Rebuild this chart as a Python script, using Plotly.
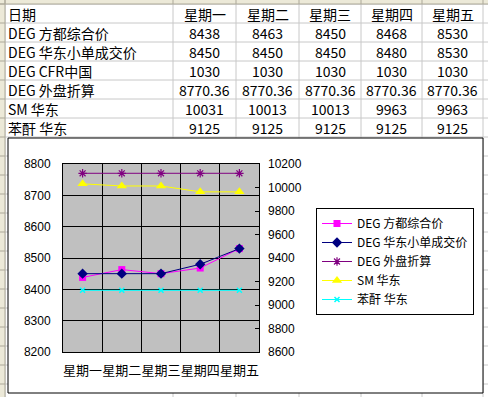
import plotly.graph_objects as go

# ---------------- data ----------------
categories = ["星期一", "星期二", "星期三", "星期四", "星期五"]
header_label = "日期"
row_names = ["DEG 方都综合价", "DEG 华东小单成交价", "DEG CFR中国", "DEG 外盘折算", "SM 华东", "苯酐 华东"]
deg_fangdu = [8438, 8463, 8450, 8468, 8530]
deg_huadong = [8450, 8450, 8450, 8480, 8530]
deg_cfr = [1030, 1030, 1030, 1030, 1030]
deg_waipan = [8770.36, 8770.36, 8770.36, 8770.36, 8770.36]
sm_huadong = [10031, 10013, 10013, 9963, 9963]
benfu_huadong = [9125, 9125, 9125, 9125, 9125]
table_rows = [deg_fangdu, deg_huadong, deg_cfr, deg_waipan, sm_huadong, benfu_huadong]

W, H = 488, 397


def px(x):
    return x / W


def py(y):
    return 1 - y / H


CJK = "Noto Sans CJK SC"
fig = go.Figure()

fig.add_trace(go.Scatter(x=categories, y=deg_fangdu, name=row_names[0], mode="lines+markers",
                         line=dict(color="#FF00FF", width=1),
                         marker=dict(symbol="square", size=7, color="#FF00FF")))
fig.add_trace(go.Scatter(x=categories, y=deg_huadong, name=row_names[1], mode="lines+markers",
                         line=dict(color="#000080", width=1),
                         marker=dict(symbol="diamond", size=8, color="#000080")))
fig.add_trace(go.Scatter(x=categories, y=deg_waipan, name=row_names[3], mode="lines+markers",
                         line=dict(color="#800080", width=1),
                         marker=dict(symbol="asterisk-open", size=7,
                                     line=dict(color="#800080", width=1.2))))
fig.add_trace(go.Scatter(x=categories, y=sm_huadong, name=row_names[4], mode="lines+markers",
                         yaxis="y2", line=dict(color="#FFFF00", width=1),
                         marker=dict(symbol="triangle-up", size=9, color="#FFFF00")))
fig.add_trace(go.Scatter(x=categories, y=benfu_huadong, name=row_names[5], mode="lines+markers",
                         yaxis="y2", line=dict(color="#00FFFF", width=1),
                         marker=dict(symbol="x-thin-open", size=5,
                                     line=dict(color="#00FFFF", width=1.5))))

shapes = []
GRID = "#C8C8C8"
HDR = "#ECE9D8"
HDRLINE = "#ACA899"
col_x = [5, 173, 236, 299, 361, 422, 483]
row_y = [4 + 19 * k for k in range(21)]

# cell gridlines
for yy in row_y:
    shapes.append(dict(type="line", xref="paper", yref="paper", x0=px(5), x1=px(W), y0=py(yy), y1=py(yy),
                       line=dict(color=GRID, width=1), layer="below"))
for xx in col_x:
    shapes.append(dict(type="line", xref="paper", yref="paper", x0=px(xx), x1=px(xx), y0=py(4), y1=py(H),
                       line=dict(color=GRID, width=1), layer="below"))
# headers
shapes.append(dict(type="rect", xref="paper", yref="paper", x0=0, x1=px(5), y0=0, y1=1,
                   fillcolor=HDR, line=dict(width=0), layer="below"))
shapes.append(dict(type="rect", xref="paper", yref="paper", x0=0, x1=1, y0=py(4), y1=1,
                   fillcolor=HDR, line=dict(width=0), layer="below"))
for yy in row_y:
    shapes.append(dict(type="line", xref="paper", yref="paper", x0=0, x1=px(5), y0=py(yy), y1=py(yy),
                       line=dict(color=HDRLINE, width=1), layer="below"))
for xx in col_x:
    shapes.append(dict(type="line", xref="paper", yref="paper", x0=px(xx), x1=px(xx), y0=py(0), y1=py(4),
                       line=dict(color=HDRLINE, width=1), layer="below"))
shapes.append(dict(type="line", xref="paper", yref="paper", x0=px(5), x1=px(5), y0=0, y1=1,
                   line=dict(color=HDRLINE, width=1), layer="below"))
shapes.append(dict(type="line", xref="paper", yref="paper", x0=0, x1=1, y0=py(4), y1=py(4),
                   line=dict(color=HDRLINE, width=1), layer="below"))
# chart area
shapes.append(dict(type="rect", xref="paper", yref="paper", x0=px(8), x1=px(483), y0=py(393), y1=py(138),
                   fillcolor="white", line=dict(color="black", width=1), layer="below"))
# plot area
shapes.append(dict(type="rect", xref="paper", yref="paper", x0=px(63), x1=px(259), y0=py(352), y1=py(164),
                   fillcolor="#C0C0C0", line=dict(width=0), layer="below"))

annotations = []
col_centers = [(col_x[i] + col_x[i + 1]) / 2 for i in range(1, 6)]
TFONT = dict(family=CJK, size=14, color="black")


def row_center(i):
    return 14 + 19 * i


def ann(text, x, y, anchor):
    return dict(text=text, x=px(x), y=py(y), xref="paper", yref="paper", xanchor=anchor,
                yanchor="middle", showarrow=False, font=TFONT, borderpad=0)


annotations.append(ann(header_label, 7, row_center(0), "left"))
for j, c in enumerate(categories):
    annotations.append(ann(c, col_centers[j], row_center(0), "center"))
for i, (name, vals) in enumerate(zip(row_names, table_rows)):
    annotations.append(ann(name, 7, row_center(i + 1), "left"))
    for j, v in enumerate(vals):
        annotations.append(ann(f"{v:g}", col_centers[j], row_center(i + 1), "center"))

AX = dict(family="Liberation Sans, Arial", size=12, color="black")
fig.update_layout(
    width=W, height=H, autosize=False,
    margin=dict(l=0, r=0, t=0, b=0, pad=0, autoexpand=False),
    paper_bgcolor="white", plot_bgcolor="rgba(0,0,0,0)",
    shapes=shapes, annotations=annotations,
    xaxis=dict(domain=[px(63), px(259)], type="category", range=[-0.5, 4.5], tickson="boundaries",
               showgrid=True, gridcolor="black", gridwidth=1, showline=True, linecolor="black",
               linewidth=1, mirror=True, ticks="", tickangle=0, automargin=False,
               tickfont=dict(family=CJK, size=13, color="black"), ticklabelstandoff=6),
    yaxis=dict(domain=[py(352), py(164)], range=[8200, 8800], dtick=100, showgrid=True,
               gridcolor="black", gridwidth=1, showline=True, linecolor="black", linewidth=1,
               mirror=True, ticks="", tickfont=AX, zeroline=False, ticklabelstandoff=9,
               automargin=False),
    yaxis2=dict(overlaying="y", side="right", range=[8600, 10200], dtick=200, showgrid=False,
                showline=False, ticks="inside", ticklen=4, tickcolor="black", tickfont=AX,
                tickformat="d", zeroline=False, ticklabelstandoff=8, automargin=False),
    legend=dict(x=px(316), y=py(208), xanchor="left", yanchor="top", bgcolor="white",
                bordercolor="black", borderwidth=1, font=dict(family=CJK, size=12, color="black"),
                itemwidth=30, tracegroupgap=0),
    showlegend=True,
)

fig.write_html("out.html", config={"displayModeBar": False})
